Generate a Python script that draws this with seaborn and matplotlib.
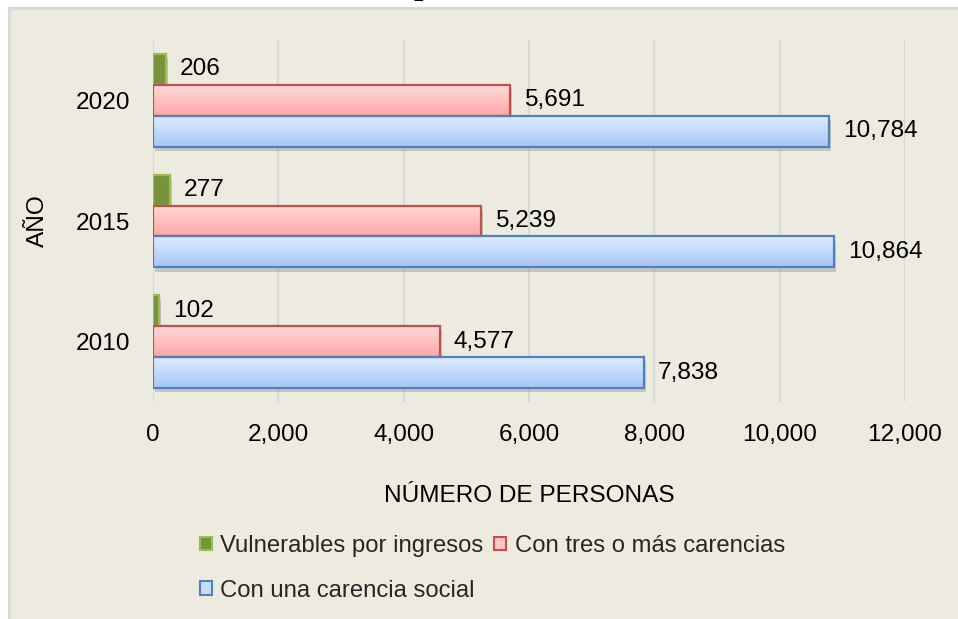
import numpy as np
import pandas as pd
import matplotlib
matplotlib.use("Agg")
import matplotlib.pyplot as plt
import seaborn as sns
from matplotlib.patches import Rectangle, Patch
import matplotlib.patheffects as pe
from matplotlib.colors import LinearSegmentedColormap

# ---- data ----
years = ["2020", "2015", "2010"]
series = ["Vulnerables por ingresos", "Con tres o más carencias", "Con una carencia social"]
vulnerables = [206, 277, 102]
tres_o_mas = [5691, 5239, 4577]
una_carencia = [10784, 10864, 7838]
xticks = [0, 2000, 4000, 6000, 8000, 10000, 12000]

df = pd.DataFrame({
    "año": years * 3,
    "serie": np.repeat(series, len(years)),
    "valor": vulnerables + tres_o_mas + una_carencia,
})

sns.set_theme(style="white")
plt.rcParams["font.family"] = ["Liberation Sans", "DejaVu Sans"]
FS = 17.6
LFS = 17.2
BG = "#EDEBE0"

fills_mid = ["#77933C", "#FFBDBD", "#BFD5FA"]
edges = ["#9BBB59", "#C0504D", "#4F81BD"]
grads = [None,
         LinearSegmentedColormap.from_list("r", ["#FFDADA", "#FFA6A6"]),
         LinearSegmentedColormap.from_list("b", ["#DFEBFD", "#A7C6F8"])]

fig = plt.figure(figsize=(9.58, 6.19), dpi=100, facecolor="white")
bg = Rectangle((8.5 / 958, -0.05), 1.2, (619 - 7.5) / 619 + 0.05, transform=fig.transFigure,
               facecolor=BG, edgecolor="#D9D9D9", lw=2.2, zorder=0)
fig.add_artist(bg)

fig.text(423 / 958, 1 + 6 / 619, "p", family="Liberation Serif", fontweight="bold",
         fontsize=24, va="baseline", ha="center", color="black")

ax = fig.add_axes([153 / 958, (619 - 402) / 619, 752 / 958, 362 / 619])
ax.set_facecolor("none")

sns.barplot(data=df, y="año", x="valor", hue="serie", order=years, hue_order=series,
            palette=fills_mid, orient="h", width=0.77, saturation=1, errorbar=None,
            legend=False, ax=ax)

for i, cont in enumerate(ax.containers):
    for bar in cont:
        bar.set_edgecolor("none")
        bar.set_linewidth(0)
        bar.set_zorder(2)
        bar.set_path_effects([pe.SimplePatchShadow(offset=(1.5, -3), shadow_rgbFace="#7f7f7f", alpha=0.35),
                              pe.Normal()])
        x0, y0 = bar.get_x(), bar.get_y()
        w, h = bar.get_width(), bar.get_height()
        if grads[i] is not None:
            im = ax.imshow(np.linspace(0, 1, 64).reshape(-1, 1), cmap=grads[i], origin="upper",
                           extent=(x0, x0 + w, y0 + h, y0), aspect="auto", zorder=2.2,
                           interpolation="bilinear")
            im.set_clip_path(bar)
        ax.add_patch(Rectangle((x0, y0), w, h, facecolor="none", edgecolor=edges[i],
                               lw=1.6, zorder=2.5))
    ax.bar_label(cont, fmt="{:,.0f}", padding=10, fontsize=FS, color="black")

ax.set_xlim(0, 12000)
ax.set_ylim(2.5, -0.5)
ax.set_xticks(xticks)
ax.set_xticklabels([f"{t:,}" for t in xticks])
ax.tick_params(axis="both", length=0, labelsize=FS, colors="black")
ax.tick_params(axis="x", pad=16)
ax.tick_params(axis="y", pad=16.5)
ax.set_axisbelow(True)
ax.grid(axis="x", color="#D9D9D9", lw=1.6)
ax.grid(axis="y", visible=False)
for s in ax.spines.values():
    s.set_visible(False)

ax.set_xlabel("NÚMERO DE PERSONAS", fontsize=FS, color="black")
ax.set_ylabel("AÑO", fontsize=FS, color="black")
ax.xaxis.set_label_coords(0.5, -0.23)
ax.yaxis.set_label_coords(-0.139, 0.5)

handles = [Patch(facecolor=fills_mid[0], edgecolor=edges[0], lw=1.5),
           Patch(facecolor="#C9DBF9", edgecolor=edges[2], lw=1.5),
           Patch(facecolor="#FFC6C6", edgecolor=edges[1], lw=1.5)]
labels = [series[0], series[2], series[1]]
fig.legend(handles, labels, loc="upper left", bbox_to_anchor=(200 / 958, (619 - 535) / 619),
           ncol=2, frameon=False, fontsize=LFS, handlelength=0.5, handleheight=0.5,
           handletextpad=0.35, columnspacing=0.45, labelspacing=0.95, borderpad=0,
           borderaxespad=0)

fig.savefig("out.png", dpi=100, facecolor="white")
